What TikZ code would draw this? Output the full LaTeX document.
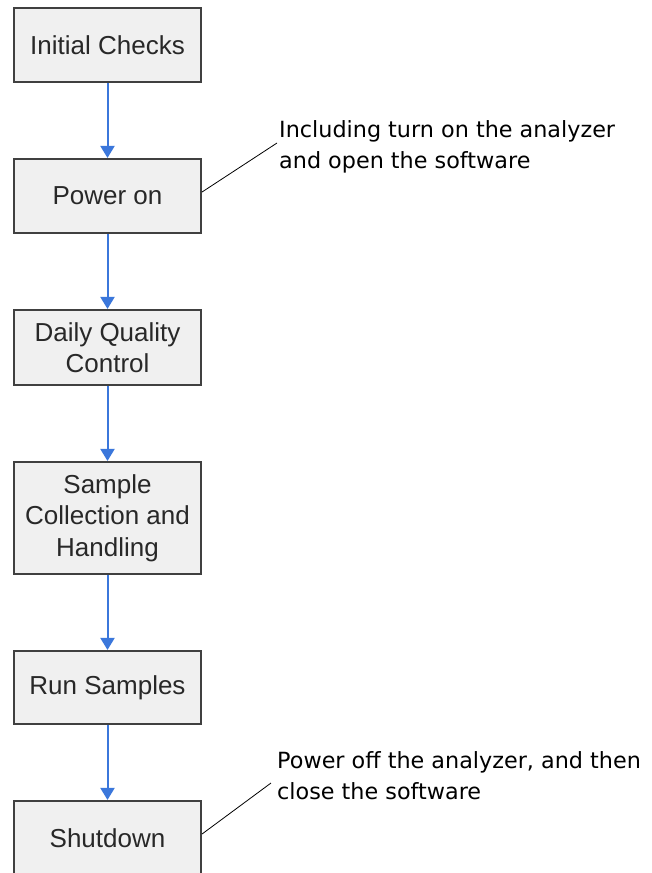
\documentclass[tikz,border=0pt]{standalone}
\usepackage{fontspec}
\setmainfont{Liberation Sans}
\newfontfamily\callfont{DejaVu Sans}
\usetikzlibrary{arrows.meta}
\definecolor{arrowblue}{RGB}{59,119,219}
\definecolor{boxfill}{RGB}{240,240,240}
\definecolor{boxline}{RGB}{64,64,64}
\definecolor{boxtext}{RGB}{40,40,40}
\begin{document}
\begin{tikzpicture}[x=1pt,y=-1pt,
  stepbox/.style={draw=boxline, line width=1.6pt, fill=boxfill, text=boxtext, minimum width=187.5pt, inner sep=0pt, align=center, font=\fontsize{26}{31.5}\selectfont},
  flow/.style={draw=arrowblue, line width=2pt, -{Triangle[width=14pt,length=12pt]}},
  callout/.style={draw=black, line width=0.8pt},
  note/.style={font=\callfont\fontsize{22.3}{31}\selectfont, align=left, anchor=north west, inner sep=0pt}]
\useasboundingbox (0,0) rectangle (651,873);
\clip (0,0) rectangle (651,873);
\node[stepbox, minimum height=74.5pt] (s1) at (107.5,45) {Initial Checks};
\node[stepbox, minimum height=74.5pt] (s2) at (107.5,196) {Power on};
\node[stepbox, minimum height=75.5pt] (s3) at (107.5,347.5) {Daily Quality\\Control};
\node[stepbox, minimum height=112.5pt] (s4) at (107.5,518) {Sample\\Collection and\\Handling};
\node[stepbox, minimum height=73.5pt] (s5) at (107.5,687.5) {Run Samples};
\node[stepbox, minimum height=74.5pt] (s6) at (107.5,838) {Shutdown};
\draw[flow] (s1) -- (s2);
\draw[flow] (s2) -- (s3);
\draw[flow] (s3) -- (s4);
\draw[flow] (s4) -- (s5);
\draw[flow] (s5) -- (s6);
\coordinate (c1) at (277,143);
\coordinate (c2) at (271,783);
\draw[callout] ([yshift=4pt]s2.east) -- (c1);
\draw[callout] ([yshift=4pt]s6.east) -- (c2);
\node[note] (n1) at (279,120) {Including turn on the analyzer\\and open the software};
\node[note] (n2) at (277,751) {Power off the analyzer, and then\\close the software};
\end{tikzpicture}
\end{document}
